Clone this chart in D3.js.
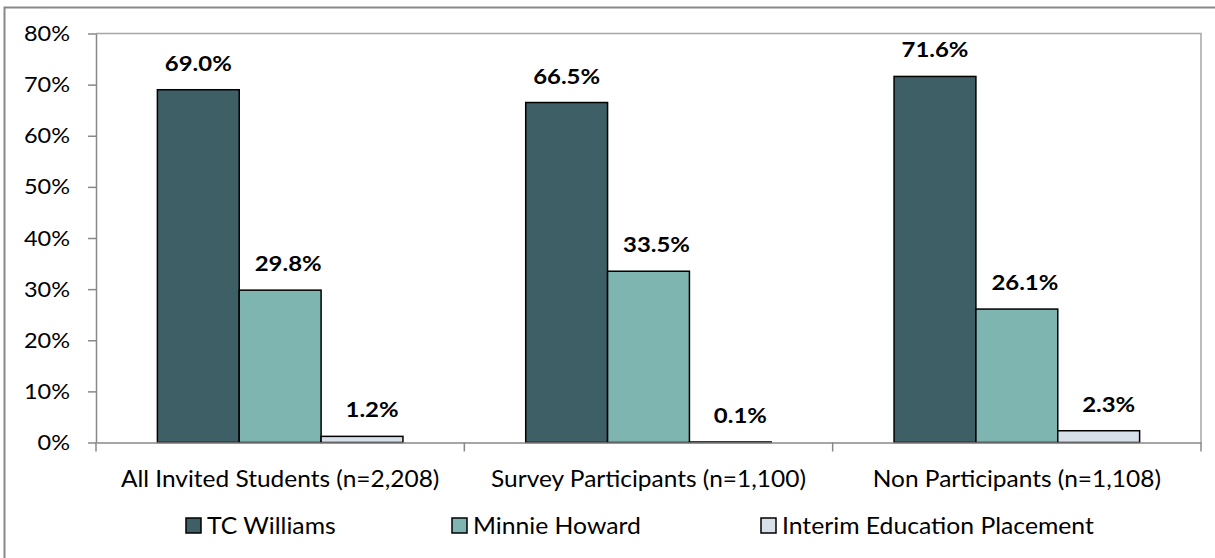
<!DOCTYPE html>
<html><head><meta charset="utf-8">
<script src="https://cdn.jsdelivr.net/npm/d3@7"></script>
<style>body{margin:0;background:#fff}svg{display:block}text{font-family:Lato,"Open Sans",sans-serif}</style>
</head><body><svg id="c" width="1215" height="558"></svg>
<script>
const categories = ["All Invited Students (n=2,208)", "Survey Participants (n=1,100)", "Non Participants (n=1,108)"];
const seriesNames = ["TC Williams", "Minnie Howard", "Interim Education Placement"];
const tcWilliams = [69.0, 66.5, 71.6];
const minnieHoward = [29.8, 33.5, 26.1];
const interim = [1.2, 0.1, 2.3];
const yTicks = [0, 10, 20, 30, 40, 50, 60, 70, 80];
const colors = ["#3d5f65", "#7fb5b0", "#d7dfe8"];

const series = [tcWilliams, minnieHoward, interim];
const svg = d3.select("#c");
const L = 96, R = 1201, T = 33.5, B = 442.5;
const FONT = "Lato, 'Open Sans', sans-serif";

function txt(parent, x, y, s, size, sx, anchor, bold) {
  return parent.append("text").attr("transform", `translate(${x},${y}) scale(${sx},1)`)
    .attr("text-anchor", anchor).attr("font-size", size).attr("font-family", FONT)
    .attr("font-weight", bold ? "bold" : "normal").attr("fill", "#000").text(s);
}

// outer border
svg.append("path").attr("d", "M4.5,558 V7.5 H1215").attr("fill", "none").attr("stroke", "#888").attr("stroke-width", 2);
// plot frame top/right
svg.append("path").attr("d", `M${L},${T} H${R} V${B}`).attr("fill", "none").attr("stroke", "#a6a6a6").attr("stroke-width", 1.5);

const x0 = d3.scaleBand().domain(categories).range([L, R]).paddingInner(0).paddingOuter(0);
const inner = d3.scaleBand().domain(d3.range(3)).range([0, x0.bandwidth()]).paddingInner(0).paddingOuter(0.75);
const y = d3.scaleLinear().domain([0, 80]).range([B, T]);

// y axis
const ya = svg.append("g").attr("transform", `translate(${L},0)`)
  .call(d3.axisLeft(y).tickValues(yTicks).tickFormat("").tickSize(8).tickSizeOuter(0));
ya.select(".domain").attr("stroke", "#888").attr("stroke-width", 1.5);
ya.selectAll(".tick line").attr("stroke", "#888").attr("stroke-width", 1.5);
yTicks.forEach(t => txt(svg, 70, y(t) + 7.5, t + "%", 21, 1.12, "end", false));

// bars
const labelShift = [0, 8, 10];
categories.forEach((c, ci) => {
  series.forEach((s, si) => {
    const v = s[ci];
    const bx = x0(c) + inner(si);
    svg.append("rect").attr("x", bx).attr("y", y(v)).attr("width", inner.bandwidth()).attr("height", B - y(v))
      .attr("fill", colors[si]).attr("stroke", "#000").attr("stroke-width", 1.5);
    txt(svg, bx + inner.bandwidth() / 2 + labelShift[si], y(v) - 19, v.toFixed(1) + "%", 21, 1.14, "middle", true);
  });
});

// x axis
const xa = svg.append("g").attr("transform", `translate(0,${B})`)
  .call(d3.axisBottom(x0).tickSize(0).tickSizeOuter(0).tickFormat(""));
xa.select(".domain").attr("stroke", "#888").attr("stroke-width", 1.5);
categories.forEach(c => txt(svg, x0(c) + x0.bandwidth() / 2, B + 44, c, 24, 1.02, "middle", false));
const bounds = [L, ...categories.map(c => x0(c) + x0.bandwidth())];
svg.selectAll(".xt").data(bounds).enter().append("line").attr("class", "xt")
  .attr("x1", d => d).attr("x2", d => d).attr("y1", B).attr("y2", B + 9)
  .attr("stroke", "#888").attr("stroke-width", 1.5);

// legend
const legX = [186, 452, 761];
seriesNames.forEach((d, i) => {
  const g = svg.append("g").attr("transform", `translate(${legX[i]},518)`);
  g.append("rect").attr("width", 15).attr("height", 15).attr("fill", colors[i]).attr("stroke", "#000").attr("stroke-width", 1.5);
  txt(g, 21, 16, d, 24, 1.03, "start", false);
});
</script></body></html>
